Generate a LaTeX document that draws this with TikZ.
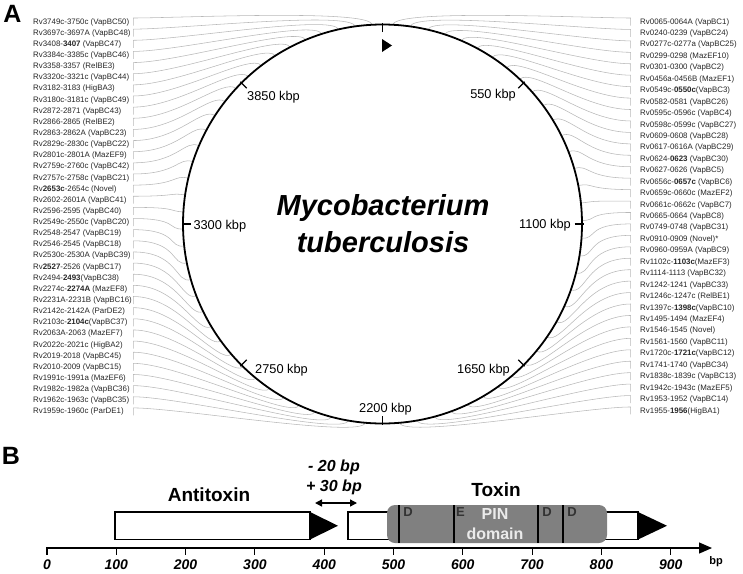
\documentclass[tikz,border=0pt]{standalone}
\usepackage{fontspec}
\setmainfont{Liberation Sans}
\usetikzlibrary{calc,arrows.meta}
\begin{document}
\begin{tikzpicture}[x=1pt,y=1pt]
\tikzstyle{tag}=[inner sep=0pt,anchor=west,font=\fontsize{7.9}{8}\selectfont,text=black!85]
\tikzstyle{conn}=[draw=black!28,line width=0.55pt]
\tikzstyle{kbp}=[inner sep=0pt,font=\fontsize{12.8}{14}\selectfont]
\tikzstyle{bpnum}=[inner sep=0pt,font=\fontsize{14}{16}\selectfont\bfseries\itshape]
\tikzstyle{gene}=[draw,line width=1.4pt,fill=white]
\tikzstyle{site}=[inner sep=0pt,font=\fontsize{13}{14}\selectfont\bfseries,text=black!80]
\useasboundingbox (0,0) rectangle (743,-573);
\coordinate (C) at (382.5,-224);
% panel A
\node[inner sep=0pt,font=\fontsize{25}{26}\selectfont\bfseries] (panA) at (12.5,-14) {A};
\foreach \lab [count=\i] in {
  {Rv3749c-3750c (VapBC50)},{Rv3697c-3697A (VapBC48)},{Rv3408-\textbf{3407} (VapBC47)},
  {Rv3384c-3385c (VapBC46)},{Rv3358-3357 (RelBE3)},{Rv3320c-3321c (VapBC44)},
  {Rv3182-3183 (HigBA3)},{Rv3180c-3181c (VapBC49)},{Rv2872-2871 (VapBC43)},
  {Rv2866-2865 (RelBE2)},{Rv2863-2862A (VapBC23)},{Rv2829c-2830c (VapBC22)},
  {Rv2801c-2801A (MazEF9)},{Rv2759c-2760c (VapBC42)},{Rv2757c-2758c (VapBC21)},
  {Rv\textbf{2653c}-2654c (Novel)},{Rv2602-2601A (VapBC41)},{Rv2596-2595 (VapBC40)},
  {Rv2549c-2550c (VapBC20)},{Rv2548-2547 (VapBC19)},{Rv2546-2545 (VapBC18)},
  {Rv2530c-2530A (VapBC39)},{Rv\textbf{2527}-2526 (VapBC17)},{Rv2494-\textbf{2493}(VapBC38)},
  {Rv2274c-\textbf{2274A} (MazEF8)},{Rv2231A-2231B (VapBC16)},{Rv2142c-2142A (ParDE2)},
  {Rv2103c-\textbf{2104c}(VapBC37)},{Rv2063A-2063 (MazEF7)},{Rv2022c-2021c (HigBA2)},
  {Rv2019-2018 (VapBC45)},{Rv2010-2009 (VapBC15)},{Rv1991c-1991a (MazEF6)},
  {Rv1982c-1982a (VapBC36)},{Rv1962c-1963c (VapBC35)},{Rv1959c-1960c (ParDE1)}}{
  \pgfmathsetmacro\yy{-22-11.14*(\i-1)}
  \pgfmathsetmacro\ang{90-(357-4.914*(\i-1))}
  \node[tag] (l\i) at (33,\yy) {\lab};
  \coordinate (lt\i) at (133.3,\yy-3.5);
  \coordinate (lb\i) at (133.3,\yy+4);
  \coordinate (lc\i) at ($(C)+(\ang:199.5)$);
  \draw[conn] (lt\i) -- (lb\i) .. controls +(45,0) and +(\ang:16) .. (lc\i);
}
\foreach \lab [count=\i] in {
  {Rv0065-0064A (VapBC1)},{Rv0240-0239 (VapBC24)},{Rv0277c-0277a (VapBC25)},
  {Rv0299-0298 (MazEF10)},{Rv0301-0300 (VapBC2)},{Rv0456a-0456B (MazEF1)},
  {Rv0549c-\textbf{0550c}(VapBC3)},{Rv0582-0581 (VapBC26)},{Rv0595c-0596c (VapBC4)},
  {Rv0598c-0599c (VapBC27)},{Rv0609-0608 (VapBC28)},{Rv0617-0616A (VapBC29)},
  {Rv0624-\textbf{0623} (VapBC30)},{Rv0627-0626 (VapBC5)},{Rv0656c-\textbf{0657c} (VapBC6)},
  {Rv0659c-0660c (MazEF2)},{Rv0661c-0662c (VapBC7)},{Rv0665-0664 (VapBC8)},
  {Rv0749-0748 (VapBC31)},{Rv0910-0909 (Novel)*},{Rv0960-0959A (VapBC9)},
  {Rv1102c-\textbf{1103c}(MazEF3)},{Rv1114-1113 (VapBC32)},{Rv1242-1241 (VapBC33)},
  {Rv1246c-1247c (RelBE1)},{Rv1397c-\textbf{1398c}(VapBC10)},{Rv1495-1494 (MazEF4)},
  {Rv1546-1545 (Novel)},{Rv1561-1560 (VapBC11)},{Rv1720c-\textbf{1721c}(VapBC12)},
  {Rv1741-1740 (VapBC34)},{Rv1838c-1839c (VapBC13)},{Rv1942c-1943c (MazEF5)},
  {Rv1953-1952 (VapBC14)},{Rv1955-\textbf{1956}(HigBA1)}}{
  \pgfmathsetmacro\yy{-22-11.44*(\i-1)}
  \pgfmathsetmacro\ang{90-(3+5.06*(\i-1))}
  \node[tag] (r\i) at (640,\yy) {\lab};
  \coordinate (rt\i) at (630.7,\yy-3.5);
  \coordinate (rb\i) at (630.7,\yy+4);
  \coordinate (rc\i) at ($(C)+(\ang:199.5)$);
  \draw[conn] (rt\i) -- (rb\i) .. controls +(-45,0) and +(\ang:16) .. (rc\i);
}
% chromosome
\draw[line width=1.8pt] (C) circle (199.5);
\foreach \k in {0,...,7}
  \draw[line width=1.3pt] ($(C)+(90-45*\k:192)$) -- ($(C)+(90-45*\k:201)$);
\fill (382,-39) -- (392,-45.5) -- (382,-52) -- cycle;
\node[kbp,anchor=base east] (k550) at (516,-98.3) {550 kbp};
\node[kbp,anchor=base east] (k1100) at (571,-228.3) {1100 kbp};
\node[kbp,anchor=base east] (k1650) at (510,-373) {1650 kbp};
\node[kbp,anchor=base] (k2200) at (385.5,-412) {2200 kbp};
\node[kbp,anchor=base west] (k2750) at (255,-373) {2750 kbp};
\node[kbp,anchor=base west] (k3300) at (193.3,-229) {3300 kbp};
\node[kbp,anchor=base west] (k3850) at (247,-100) {3850 kbp};
\node[align=center,inner sep=0pt,font=\fontsize{29}{37}\selectfont\bfseries\itshape] (mtb) at (383,-224) {Mycobacterium\\tuberculosis};
% panel B
\node[inner sep=0pt,font=\fontsize{25}{26}\selectfont\bfseries] (panB) at (11,-456) {B};
\draw[line width=1.2pt,-{Triangle[length=13pt,width=11pt]}] (46,-548) -- (712,-548);
\foreach \t in {0,...,9}{
  \draw[line width=1.1pt] (47+69.3*\t,-548) -- (47+69.3*\t,-555);
  \pgfmathtruncatemacro\bp{100*\t}
  \node[bpnum] (n\t) at (47+69.3*\t,-565) {\bp};
}
\node[inner sep=0pt,font=\fontsize{11}{12}\selectfont\bfseries] (bp) at (716,-562) {bp};
\draw[gene] (115,-512) rectangle (310,-539.5);
\fill (310,-512) -- (338,-525.75) -- (310,-539.5) -- cycle;
\draw[gene] (348,-512) rectangle (638,-539.5);
\fill (638,-512) -- (667,-525.75) -- (638,-539.5) -- cycle;
\fill[black!50,rounded corners=8pt] (387,-505) rectangle (607,-543);
\foreach \x in {399,454,538,563}
  \draw[line width=1.4pt] (\x,-505) -- (\x,-543);
\node[site] (d1) at (408,-512) {D};
\node[site] (e1) at (460.5,-512) {E};
\node[site] (d2) at (547,-512) {D};
\node[site] (d3) at (572,-512) {D};
\node[align=center,inner sep=0pt,text=white!92!black,font=\fontsize{16}{20}\selectfont\bfseries] (pin) at (495,-524) {PIN\\domain};
\node[inner sep=0pt,font=\fontsize{19}{20}\selectfont\bfseries] (anti) at (209,-495) {Antitoxin};
\node[inner sep=0pt,font=\fontsize{19}{20}\selectfont\bfseries] (tox) at (496,-490) {Toxin};
\node[align=center,inner sep=0pt,font=\fontsize{16}{20}\selectfont\bfseries\itshape] (gap) at (334,-477) {- 20 bp\\+ 30 bp};
\coordinate (g1) at (315,-503);
\coordinate (g2) at (357,-503);
\draw[line width=1.4pt,{Triangle[length=7pt,width=7pt]}-{Triangle[length=7pt,width=7pt]}] (g1) -- (g2);
\end{tikzpicture}
\end{document}
